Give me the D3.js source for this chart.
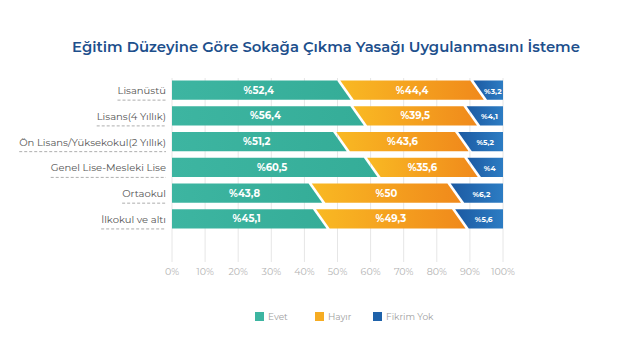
<!DOCTYPE html>
<html><head><meta charset="utf-8">
<script src="https://cdn.jsdelivr.net/npm/d3@7"></script>
<style>body{margin:0;background:#fff}svg{display:block}</style>
</head><body>
<svg id="c" width="620" height="344"></svg>
<script>
const categories = ["Lisanüstü","Lisans(4 Yıllık)","Ön Lisans/Yüksekokul(2 Yıllık)","Genel Lise-Mesleki Lise","Ortaokul","İlkokul ve altı"];
const seriesNames = ["Evet","Hayır","Fikrim Yok"];
const evet = [52.4,56.4,51.2,60.5,43.8,45.1];
const hayir = [44.4,39.5,43.6,35.6,50,49.3];
const fikrimYok = [3.2,4.1,5.2,4,6.2,5.6];
const valueLabels = [
  ["%52,4","%44,4","%3,2"],["%56,4","%39,5","%4,1"],["%51,2","%43,6","%5,2"],
  ["%60,5","%35,6","%4"],["%43,8","%50","%6,2"],["%45,1","%49,3","%5,6"]];
const ticks = [0,10,20,30,40,50,60,70,80,90,100];
// the infographic visually enlarges the small "Fikrim Yok" share; "Hayır" fills the rest
const fikrimEmphasis = 2.3;
const title = "Eğitim Düzeyine Göre Sokağa Çıkma Yasağı Uygulanmasını İsteme";

const svg = d3.select("#c");
const font = "Montserrat, 'Open Sans', 'DejaVu Sans', sans-serif";
const defs = svg.append("defs");
function grad(id, c1, c2){
  const g = defs.append("linearGradient").attr("id", id).attr("x1","0").attr("x2","1").attr("y1","0").attr("y2","0");
  g.append("stop").attr("offset","0").attr("stop-color",c1);
  g.append("stop").attr("offset","1").attr("stop-color",c2);
}
grad("g0","#3db5a1","#35ad98");
grad("g1","#f9b923","#f0891b");
grad("g2","#1c5aa2","#2c7cc3");
const fills = ["url(#g0)","url(#g1)","url(#g2)"];
const legendColors = ["#3db5a1","#f6ac22","#1f62aa"];

const x = d3.scaleLinear().domain([0,100]).range([172,503]);
const y = d3.scaleBand().domain(categories).range([78,231]).paddingInner(0.26).paddingOuter(0.1);

svg.append("text").attr("x",326).attr("y",52).attr("text-anchor","middle")
  .attr("font-family",font).attr("font-weight",600).attr("font-size",14.8).attr("fill","#1d4f8c").text(title);

// grid
svg.append("g").selectAll("line").data(ticks).join("line")
  .attr("x1",d=>x(d)).attr("x2",d=>x(d)).attr("y1",78).attr("y2",262)
  .attr("stroke","#e6e6e6").attr("stroke-width",1);
svg.append("g").selectAll("text").data(ticks).join("text")
  .attr("x",d=>x(d)).attr("y",275).attr("text-anchor","middle")
  .attr("font-family",font).attr("font-size",9.5).attr("fill","#b3b3b3").text(d=>d+"%");

const slant = 6.8, gap = 1.6;
categories.forEach((c,i)=>{
  const y0 = y(c), h = y.bandwidth(), y1 = y0 + h;
  const b1 = evet[i];
  const b2 = 100 - fikrimYok[i]*fikrimEmphasis;
  const segs = [[0,b1],[b1,b2],[b2,100]];
  segs.forEach(([a,b],k)=>{
    const xa = x(a), xb = x(b);
    let lt, lb, rt, rb;
    if(k===0){ lt = xa; lb = xa; } else { lt = xa - slant + gap; lb = xa + slant + gap; }
    if(k===2){ rt = xb; rb = xb; } else { rt = xb - slant - gap; rb = xb + slant - gap; }
    svg.append("path").attr("d",`M${lt},${y0}L${rt},${y0}L${rb},${y1}L${lb},${y1}Z`).attr("fill",fills[k]);
    svg.append("text").attr("x",(xa+xb)/2 + (k===2?2:0)).attr("y",y0+h/2+3.5).attr("text-anchor","middle")
      .attr("font-family",font).attr("font-weight",700).attr("font-size",k===2?7.5:10).attr("fill","#fff")
      .text(valueLabels[i][k]);
  });
  const t = svg.append("text").attr("x",166).attr("y",y0+h/2+4).attr("text-anchor","end")
    .attr("font-family",font).attr("font-size",10).attr("fill","#555").text(c);
  const bb = t.node().getBBox();
  svg.append("line").attr("x1",bb.x).attr("x2",166).attr("y1",y1+0.5).attr("y2",y1+0.5)
    .attr("stroke","#999").attr("stroke-width",0.8).attr("stroke-dasharray","3,2");
});

// legend
const lx = [255,315,373];
seriesNames.forEach((s,k)=>{
  svg.append("rect").attr("x",lx[k]).attr("y",312).attr("width",9).attr("height",9).attr("fill",legendColors[k]);
  svg.append("text").attr("x",lx[k]+13).attr("y",320).attr("font-family",font).attr("font-size",9)
    .attr("fill","#a0a0a0").text(s);
});
</script>
</body></html>
